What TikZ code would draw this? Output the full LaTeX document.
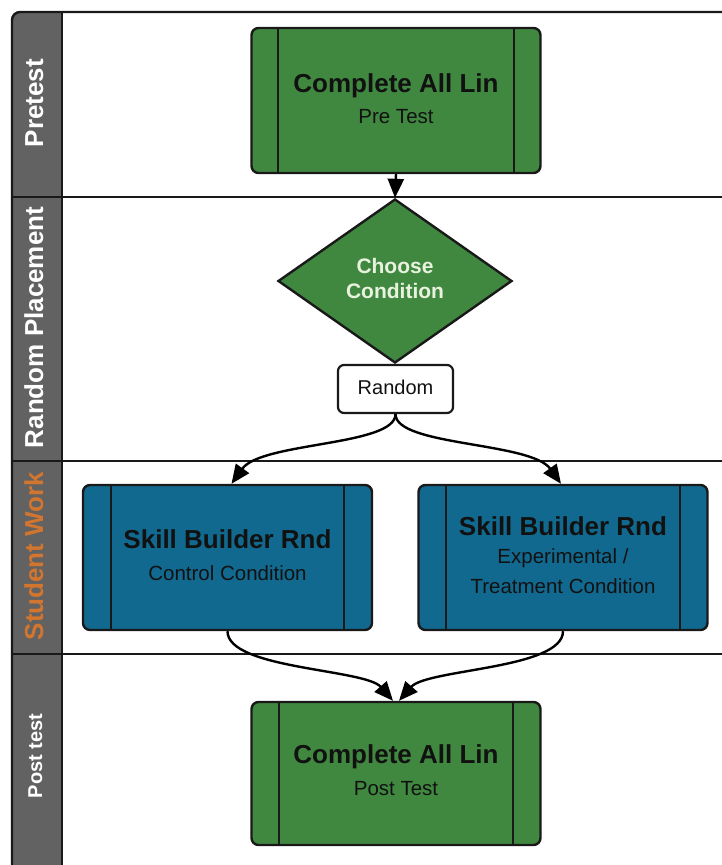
\documentclass[tikz,border=0pt]{standalone}
\usepackage{fontspec}
\setmainfont{Liberation Sans}
\usetikzlibrary{shapes.geometric,arrows.meta}
\definecolor{lanegray}{HTML}{626262}
\definecolor{boxgreen}{HTML}{408840}
\definecolor{boxblue}{HTML}{12698F}
\definecolor{laneorange}{HTML}{D2752F}
\definecolor{darktext}{HTML}{111111}
\definecolor{diatext}{HTML}{E8F2DE}
\tikzset{
  frame/.style={draw=black!90, line width=2.4pt},
  procbox/.style={draw=black!90, line width=2.4pt, rounded corners=7pt,
    minimum width=289pt, minimum height=145pt, inner sep=0pt},
  greenbox/.style={procbox, fill=boxgreen},
  bluebox/.style={procbox, fill=boxblue},
  sideline/.style={draw=black!90, line width=2.2pt},
  titletext/.style={font=\bfseries\fontsize{26}{30}\selectfont, text=darktext, anchor=base, inner sep=0pt},
  subtext/.style={font=\fontsize{20.5}{24}\selectfont, text=darktext, anchor=base, inner sep=0pt},
  lanelabel/.style={font=\bfseries\fontsize{26}{30}\selectfont, text=white, rotate=90, anchor=base, inner sep=0pt},
  arr/.style={draw=black, line width=2.4pt, -{Triangle[length=19pt,width=16pt]}},
}
\begin{document}
\begin{tikzpicture}[x=1pt,y=-1pt]
\useasboundingbox (0,0) rectangle (722,865);
% lane column
\fill[lanegray, rounded corners=8pt] (12,880) -- (12,12) -- (62,12) -- (62,880) -- cycle;
\fill[lanegray] (40,12) rectangle (62,880);
\draw[frame, rounded corners=8pt] (12,880) -- (12,12) -- (730,12);
\draw[frame] (62,12) -- (62,880);
\draw[frame] (12,197) -- (730,197);
\draw[frame] (12,461) -- (730,461);
\draw[frame] (12,654) -- (730,654);
% lane labels
\node[lanelabel] (l1) at (43,103) {Pretest};
\node[lanelabel] (l2) at (43,327.5) {Random Placement};
\node[lanelabel, text=laneorange] (l3) at (43,556) {Student Work};
\node[lanelabel, font=\bfseries\fontsize{20}{24}\selectfont] (l4) at (42,756) {Post test};
% pretest box
\node[greenbox] (pre) at (396,100.5) {};
\draw[sideline] ([xshift=28pt]pre.north west) -- ([xshift=28pt]pre.south west);
\draw[sideline] ([xshift=-28pt]pre.north east) -- ([xshift=-28pt]pre.south east);
\node[titletext] (pret1) at (396,92) {Complete All Lin};
\node[subtext] (pret2) at (396,123) {Pre Test};
% diamond
\node[diamond, draw=black!90, line width=2.4pt, fill=boxgreen, minimum width=234pt, minimum height=164pt, inner sep=0pt] (dia) at (395,281) {};
\node[font=\bfseries\fontsize{21}{25}\selectfont, text=diatext, anchor=base, inner sep=0pt] (diat1) at (395,273) {Choose};
\node[font=\bfseries\fontsize{21}{25}\selectfont, text=diatext, anchor=base, inner sep=0pt] (diat2) at (395,298) {Condition};
% random box
\node[draw=black!90, line width=2.2pt, fill=white, rounded corners=6pt, minimum width=115pt, minimum height=48pt, inner sep=0pt] (rnd) at (395.5,389) {};
\node[subtext, font=\fontsize{20}{24}\selectfont] (rndt) at (395.5,394) {Random};
% student work boxes
\node[bluebox] (ctl) at (227.5,557.5) {};
\draw[sideline] ([xshift=29pt]ctl.north west) -- ([xshift=29pt]ctl.south west);
\draw[sideline] ([xshift=-29pt]ctl.north east) -- ([xshift=-29pt]ctl.south east);
\node[titletext] (ctlt1) at (227.5,548) {Skill Builder Rnd};
\node[subtext] (ctlt2) at (227.5,580) {Control Condition};
\node[bluebox] (exp) at (563,557.5) {};
\draw[sideline] ([xshift=29pt]exp.north west) -- ([xshift=29pt]exp.south west);
\draw[sideline] ([xshift=-29pt]exp.north east) -- ([xshift=-29pt]exp.south east);
\node[titletext] (expt1) at (563,535) {Skill Builder Rnd};
\node[subtext] (expt2) at (563,563) {Experimental /};
\node[subtext] (expt3) at (563,593) {Treatment Condition};
% post test box
\node[greenbox, minimum height=143pt] (post) at (396,773.5) {};
\draw[sideline] ([xshift=29pt]post.north west) -- ([xshift=29pt]post.south west);
\draw[sideline] ([xshift=-29pt]post.north east) -- ([xshift=-29pt]post.south east);
\node[titletext] (postt1) at (396,763) {Complete All Lin};
\node[subtext] (postt2) at (396,795) {Post Test};
% connectors
\draw[arr] (pre.south) -- (dia.north);
\draw[arr] (rnd.south) .. controls +(0,32) and +(30,-42) .. ([xshift=4pt]ctl.north);
\draw[arr] (rnd.south) .. controls +(0,32) and +(-30,-42) .. ([xshift=-2pt]exp.north);
\draw[arr] (ctl.south) .. controls +(0,38) and +(-28,-32) .. ([xshift=-3pt]post.north);
\draw[arr] (exp.south) .. controls +(0,38) and +(28,-32) .. ([xshift=3pt]post.north);
\end{tikzpicture}
\end{document}
